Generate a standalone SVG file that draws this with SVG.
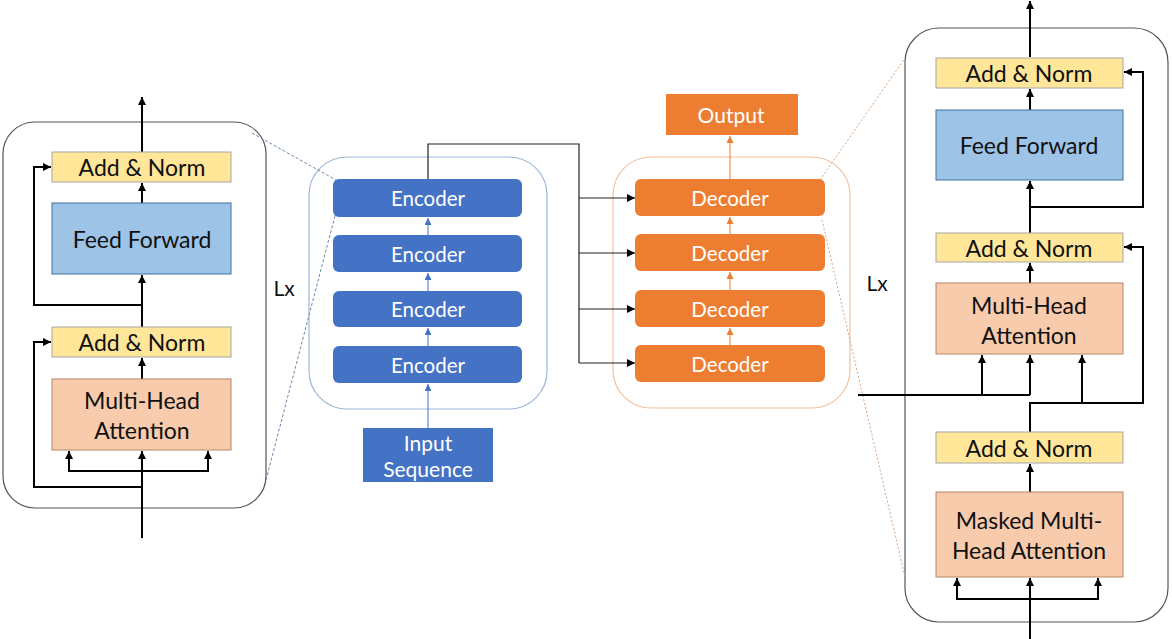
<svg xmlns="http://www.w3.org/2000/svg" width="1172" height="639" viewBox="0 0 1172 639">
<style>
  text{font-family:Lato,"Open Sans","Liberation Sans",sans-serif;text-anchor:middle;dominant-baseline:central}
  .t{font-size:23px;fill:#111}
  .w{font-size:20.5px;fill:#fff}
  .w2{font-size:21px;fill:#fff}
  .lx{font-size:21px;fill:#111}
  .an{fill:#FFE699;stroke:#A6A6A6;stroke-width:1}
  .ff{fill:#9DC3E6;stroke:#41719C;stroke-width:1}
  .mh{fill:#F8CBAD;stroke:#B4846A;stroke-width:1}
  .enc{fill:#4472C4}
  .dec{fill:#ED7D31}
  .panel{fill:none;stroke:#555;stroke-width:1.2}
  .k{fill:none;stroke:#000;stroke-width:2}
  .k1{fill:none;stroke:#222;stroke-width:1.2}
  .bl{fill:none;stroke:#4472C4;stroke-width:1}
  .or{fill:none;stroke:#ED7D31;stroke-width:1}
  .dashb{fill:none;stroke:#6F86A8;stroke-width:1;stroke-dasharray:3 2}
  .dasho{fill:none;stroke:#D9A57F;stroke-width:1;stroke-dasharray:2 2}
</style>
<defs>
  <marker id="ak" viewBox="0 0 10 10" refX="10" refY="5" markerWidth="8" markerHeight="8" markerUnits="userSpaceOnUse" orient="auto"><path d="M0,0 L10,5 L0,10 z" fill="#000"/></marker>
  <marker id="ab" viewBox="0 0 10 10" refX="10" refY="5" markerWidth="7" markerHeight="7" markerUnits="userSpaceOnUse" orient="auto"><path d="M0,0 L10,5 L0,10 z" fill="#4472C4"/></marker>
  <marker id="ao" viewBox="0 0 10 10" refX="10" refY="5" markerWidth="7" markerHeight="7" markerUnits="userSpaceOnUse" orient="auto"><path d="M0,0 L10,5 L0,10 z" fill="#ED7D31"/></marker>
</defs>

<!-- panels -->
<g id="encoder-layer-panel">
  <rect class="panel" x="3" y="122" width="263" height="386" rx="32"/>
  <text class="lx" x="284" y="287">Lx</text>
</g>
<g id="encoder-stack-panel">
  <rect x="309" y="157" width="238" height="252" rx="38" fill="none" stroke="#9DB7D9" stroke-width="1.2"/>
</g>
<g id="decoder-stack-panel">
  <rect x="613" y="157" width="237" height="251" rx="38" fill="none" stroke="#F1C2A0" stroke-width="1.2"/>
</g>
<g id="decoder-layer-panel">
  <rect class="panel" x="905" y="28" width="263" height="594" rx="34"/>
  <text class="lx" x="877" y="282">Lx</text>
</g>

<!-- connectors -->
<g id="connectors">
  <path class="dashb" d="M252,133 L336,180"/>
  <path class="dashb" d="M266,480 L336,212"/>
  <path class="dasho" d="M820,180 L905,58"/>
  <path class="dasho" d="M822,220 L905,577"/>

  <path class="k" d="M142,152 V97" marker-end="url(#ak)"/>
  <path class="k" d="M142,203 V183" marker-end="url(#ak)"/>
  <path class="k" d="M142,327 V275" marker-end="url(#ak)"/>
  <path class="k" d="M142,305 H34 V167 H51" marker-end="url(#ak)"/>
  <path class="k" d="M142,379 V358" marker-end="url(#ak)"/>
  <path class="k" d="M142,538 V451" marker-end="url(#ak)"/>
  <path class="k" d="M69,471 V451" marker-end="url(#ak)"/>
  <path class="k" d="M208,471 V451" marker-end="url(#ak)"/>
  <path class="k" d="M68,471 H209"/>
  <path class="k" d="M142,487 H34 V342 H51" marker-end="url(#ak)"/>

  <path class="bl" d="M428,428 V384" marker-end="url(#ab)"/>
  <path class="bl" d="M428,346 V328" marker-end="url(#ab)"/>
  <path class="bl" d="M428,291 V273" marker-end="url(#ab)"/>
  <path class="bl" d="M428,235 V218" marker-end="url(#ab)"/>

  <path class="k1" d="M428,179 V144 H579 V363"/>
  <path class="k1" d="M579,198 H635" marker-end="url(#ak)"/>
  <path class="k1" d="M579,253 H635" marker-end="url(#ak)"/>
  <path class="k1" d="M579,309 H635" marker-end="url(#ak)"/>
  <path class="k1" d="M579,363 H635" marker-end="url(#ak)"/>

  <path class="or" d="M730,345 V328" marker-end="url(#ao)"/>
  <path class="or" d="M730,290 V272" marker-end="url(#ao)"/>
  <path class="or" d="M730,234 V217" marker-end="url(#ao)"/>
  <path class="or" d="M730,179 V136" marker-end="url(#ao)"/>

  <path class="k" d="M1030,57 V1" marker-end="url(#ak)"/>
  <path class="k" d="M1030,110 V89" marker-end="url(#ak)"/>
  <path class="k" d="M1030,233 V181" marker-end="url(#ak)"/>
  <path class="k" d="M1030,207 H1143 V72 H1124" marker-end="url(#ak)"/>
  <path class="k" d="M1030,283 V263" marker-end="url(#ak)"/>
  <path class="k" d="M1030,432 V403 H1143 V247 H1124" marker-end="url(#ak)"/>
  <path class="k" d="M1082,403 V355" marker-end="url(#ak)"/>
  <path class="k" d="M858,395 H1030"/>
  <path class="k" d="M982,395 V355" marker-end="url(#ak)"/>
  <path class="k" d="M1030,395 V355" marker-end="url(#ak)"/>
  <path class="k" d="M1030,492 V464" marker-end="url(#ak)"/>
  <path class="k" d="M1030,639 V578" marker-end="url(#ak)"/>
  <path class="k" d="M956,599 H1099"/>
  <path class="k" d="M957,599 V578" marker-end="url(#ak)"/>
  <path class="k" d="M1098,599 V578" marker-end="url(#ak)"/>
</g>

<g id="enc-addnorm-top"><rect class="an" x="52" y="152" width="179" height="30"/><text class="t" x="142" y="167">Add &amp; Norm</text></g>
<g id="enc-feedforward"><rect class="ff" x="52" y="203" width="179" height="71"/><text class="t" x="142" y="239">Feed Forward</text></g>
<g id="enc-addnorm-bottom"><rect class="an" x="52" y="327" width="179" height="30"/><text class="t" x="142" y="342">Add &amp; Norm</text></g>
<g id="enc-mha"><rect class="mh" x="52" y="379" width="179" height="71"/><text class="t" x="142" y="400">Multi-Head</text><text class="t" x="142" y="430">Attention</text></g>

<g id="encoder-1"><rect class="enc" x="333" y="179" width="189" height="38" rx="6"/><text class="w" x="428" y="198">Encoder</text></g>
<g id="encoder-2"><rect class="enc" x="333" y="235" width="189" height="37" rx="6"/><text class="w" x="428" y="254">Encoder</text></g>
<g id="encoder-3"><rect class="enc" x="333" y="291" width="189" height="36" rx="6"/><text class="w" x="428" y="309">Encoder</text></g>
<g id="encoder-4"><rect class="enc" x="333" y="346" width="189" height="37" rx="6"/><text class="w" x="428" y="365">Encoder</text></g>
<g id="input-sequence"><rect class="enc" x="363" y="428" width="130" height="54"/><text class="w2" x="428" y="442">Input</text><text class="w2" x="428" y="468">Sequence</text></g>

<g id="output"><rect class="dec" x="666" y="94" width="132" height="41"/><text class="w2" x="731" y="114">Output</text></g>
<g id="decoder-1"><rect class="dec" x="635" y="179" width="190" height="37" rx="6"/><text class="w" x="730" y="198">Decoder</text></g>
<g id="decoder-2"><rect class="dec" x="635" y="234" width="190" height="37" rx="6"/><text class="w" x="730" y="253">Decoder</text></g>
<g id="decoder-3"><rect class="dec" x="635" y="290" width="190" height="37" rx="6"/><text class="w" x="730" y="309">Decoder</text></g>
<g id="decoder-4"><rect class="dec" x="635" y="345" width="190" height="37" rx="6"/><text class="w" x="730" y="364">Decoder</text></g>

<g id="dec-addnorm-top"><rect class="an" x="936" y="58" width="187" height="30"/><text class="t" x="1029" y="73">Add &amp; Norm</text></g>
<g id="dec-feedforward"><rect class="ff" x="936" y="110" width="187" height="70"/><text class="t" x="1029" y="145">Feed Forward</text></g>
<g id="dec-addnorm-mid"><rect class="an" x="936" y="233" width="187" height="29"/><text class="t" x="1029" y="248">Add &amp; Norm</text></g>
<g id="dec-mha"><rect class="mh" x="936" y="283" width="187" height="71"/><text class="t" x="1029" y="305">Multi-Head</text><text class="t" x="1029" y="335">Attention</text></g>
<g id="dec-addnorm-bottom"><rect class="an" x="936" y="432" width="187" height="31"/><text class="t" x="1029" y="448">Add &amp; Norm</text></g>
<g id="dec-masked-mha"><rect class="mh" x="936" y="492" width="187" height="85"/><text class="t" x="1029" y="520">Masked Multi-</text><text class="t" x="1029" y="550">Head Attention</text></g>
</svg>
